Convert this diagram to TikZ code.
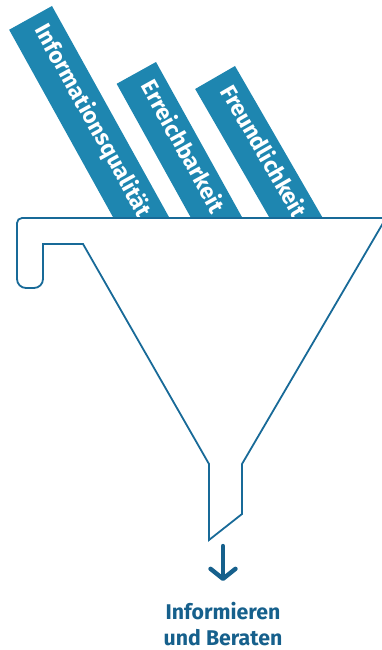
\documentclass[tikz,border=0pt]{standalone}
\usepackage{fontspec}
\setmainfont{Fira Sans}
\usetikzlibrary{arrows.meta}
\definecolor{barblue}{RGB}{30,134,176}
\definecolor{funblue}{RGB}{24,106,152}
\definecolor{txtblue}{RGB}{22,96,140}
\tikzset{
  barfill/.style={fill=barblue, draw=none},
  bartext/.style={text=white, font=\bfseries\fontsize{22.8}{23}\selectfont, inner sep=0pt, anchor=mid west},
  funnelline/.style={draw=funblue, line width=1.8pt, line join=miter},
  outarrow/.style={draw=txtblue, line width=4.4pt, line cap=round, -{Straight Barb[length=10pt, width=25pt, round]}},
  outtext/.style={text=txtblue, font=\bfseries\fontsize{21.3}{26}\selectfont, align=center, inner sep=0pt}
}
\begin{document}
\begin{tikzpicture}[x=1pt, y=-1pt]
\useasboundingbox (0,0) rectangle (382,650);
% bars clipped at funnel top
\begin{scope}
  \clip (0,0) rectangle (382,218);
  \begin{scope}[shift={(52,6)}, rotate=-61]
    \fill[barfill] (0,0) -- (300,0) -- (300,49) -- (0,49) -- cycle;
    \node[bartext, rotate=-61] (b1) at (12,24.5) {Informationsqualität};
  \end{scope}
  \begin{scope}[shift={(156,62)}, rotate=-61]
    \fill[barfill] (0,0) -- (300,0) -- (300,45) -- (0,45) -- cycle;
    \node[bartext, rotate=-61] (b2) at (13,22.5) {Erreichbarkeit};
  \end{scope}
  \begin{scope}[shift={(235,66)}, rotate=-60]
    \fill[barfill] (0,0) -- (300,0) -- (300,46) -- (0,46) -- cycle;
    \node[bartext, rotate=-60] (b3) at (14,23) {Freundlichkeit};
  \end{scope}
\end{scope}
% funnel
\fill[white] (386,218) -- (17,218) -- (17,288) -- (43,288) -- (43,244) -- (83,244) -- (209,464) -- (209,540) -- (242,514) -- (242,464) -- cycle;
\draw[funnelline] (386,218) [rounded corners=5pt] -- (17,218) [rounded corners=9pt] -- (17,288) -- (43,288) [sharp corners] -- (43,244) -- (83,244) -- (209,464) -- (209,540) -- (242,514) -- (242,464) -- cycle;
% output
\coordinate (spout) at (223,546);
\node[outtext, anchor=north] (out) at (223,602) {Informieren\\und Beraten};
\draw[outarrow] (spout) -- (223,581);
\end{tikzpicture}
\end{document}
